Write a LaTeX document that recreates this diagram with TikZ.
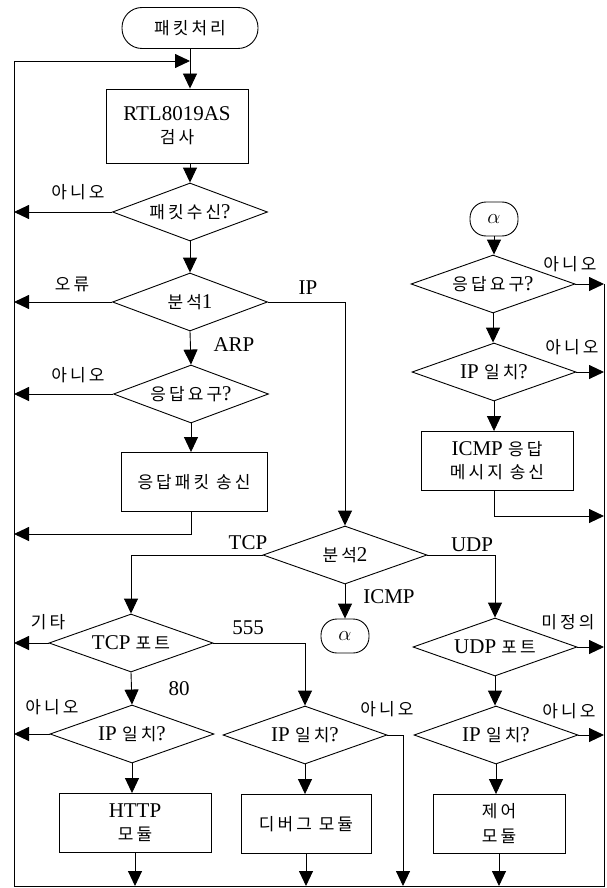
\documentclass[tikz,border=0pt]{standalone}
\usepackage{fontspec}
\setmainfont{Liberation Serif}
\newfontfamily\krfont[LetterSpace=18]{Noto Sans CJK KR}
\newcommand\K[1]{{\fontsize{17}{20}\krfont #1}}
\usetikzlibrary{shapes.geometric,arrows.meta}
\tikzset{
  base/.style={draw, line width=0.9pt, inner sep=0pt, align=center, font=\fontsize{21}{25}\selectfont},
  decs/.style={base, shape=diamond, aspect=2.8, minimum width=155pt, minimum height=58pt},
  decl/.style={base, shape=diamond, aspect=2.8, minimum width=164pt, minimum height=58pt},
  proc/.style={base, rectangle, minimum height=59pt},
  term/.style={base, rectangle, rounded corners=20pt, minimum width=136pt, minimum height=41pt},
  conn/.style={base, rectangle, rounded corners=16pt, minimum width=48pt, minimum height=34pt},
  lab/.style={inner sep=0pt, font=\fontsize{21}{25}\selectfont},
  wire/.style={line width=0.9pt},
  arr/.style={line width=0.9pt, -{Triangle[length=15pt,width=14pt]}},
}
\begin{document}
\begin{tikzpicture}[x=1pt,y=-1pt]
\useasboundingbox (0,0) rectangle (606,888);
% nodes
\node[term] (start) at (190,28) {\K{패킷처리}};
\node[proc, minimum width=142pt, minimum height=74pt] (rtl) at (177,126) {RTL8019AS\\[-2pt]\K{검사}};
\node[decs] (d1) at (190,212) {\K{패킷수신}?};
\node[decs] (d2) at (190,302) {\K{분석}1};
\node[decs] (d3) at (191,394) {\K{응답요구}?};
\node[proc, minimum width=146pt] (b1) at (194,482) {\K{응답패킷 송신}};
\node[decl] (d4) at (345,555) {\K{분석}2};
\node[conn] (c1) at (345,636) {$\alpha$};
\node[decl] (d5) at (131,643) {TCP \K{포트}};
\node[decl] (d6) at (495,647) {UDP \K{포트}};
\node[decl] (d7) at (132,734) {IP \K{일치}?};
\node[decl] (d8) at (305,735) {IP \K{일치}?};
\node[decl] (d9) at (496,735) {IP \K{일치}?};
\node[proc, minimum width=152pt] (b2) at (135,823) {HTTP\\[-2pt]\K{모듈}};
\node[proc, minimum width=130pt] (b3) at (306,824) {\K{디버그 모듈}};
\node[proc, minimum width=132pt] (b4) at (499,824) {\K{제어}\\[0pt]\K{모듈}};
\node[conn] (c2) at (494,219) {$\alpha$};
\node[decl] (d10) at (493,284) {\K{응답요구}?};
\node[decl] (d11) at (494,372) {IP \K{일치}?};
\node[proc, minimum width=152pt] (b5) at (497,461) {ICMP \K{응답}\\[-2pt]\K{메시지 송신}};
% labels
\node[lab] (l1) at (78,192) {\K{아니오}};
\node[lab] (l2) at (72,284) {\K{오류}};
\node[lab] (l3) at (308,288) {IP};
\node[lab] (l4) at (234,345) {ARP};
\node[lab] (l5) at (78,375) {\K{아니오}};
\node[lab] (l6) at (248,543) {TCP};
\node[lab] (l7) at (472,545) {UDP};
\node[lab] (l8) at (389,597) {ICMP};
\node[lab] (l9) at (48,622) {\K{기타}};
\node[lab] (l10) at (248,628) {555};
\node[lab] (l11) at (179,689) {80};
\node[lab] (l12) at (52,707) {\K{아니오}};
\node[lab] (l13) at (387,709) {\K{아니오}};
\node[lab] (l14) at (569,711) {\K{아니오}};
\node[lab] (l15) at (570,264) {\K{아니오}};
\node[lab] (l16) at (572,347) {\K{아니오}};
\node[lab] (l17) at (568,622) {\K{미정의}};
% frame coordinates
\coordinate (L) at (14,61);
\coordinate (LB) at (14,886);
\coordinate (RB) at (604,886);
\coordinate (j1) at (14,534);
\coordinate (j2) at (403,886);
\coordinate (j3) at (604,516);
% loop frame
\draw[arr] (d10.east -| RB) -- (RB) -- (LB) -- (L) -- (start |- L);
% connectors
\draw[arr] (start) -- (start |- rtl.north);
\draw[arr] (rtl.south -| d1) -- (d1.north);
\draw[arr] (d1.west) -- (d1.west -| LB);
\draw[arr] (d1.south) -- (d2.north);
\draw[arr] (d2.west) -- (d2.west -| LB);
\draw[arr] (d2.east) -| (d4.north);
\draw[arr] (d2.south) -- (d3.north);
\draw[arr] (d3.west) -- (d3.west -| LB);
\draw[arr] (d3.south) -- (d3.south |- b1.north);
\draw[arr] (b1.south -| d3) |- (j1);
\draw[arr] (d4.west) -| (d5.north);
\draw[arr] (d4.east) -| (d6.north);
\draw[arr] (d4.south) -- (c1.north);
\draw[arr] (d5.west) -- (d5.west -| LB);
\draw[arr] (d5.east) -| (d8.north);
\draw[arr] (d5.south) -- (d7.north);
\draw[arr] (d7.west) -- (d7.west -| LB);
\draw[arr] (d7.south) -- (d7.south |- b2.north);
\draw[arr] (d8.east) -| (j2);
\draw[arr] (d8.south) -- (d8.south |- b3.north);
\draw[arr] (d6.east) -- (d6.east -| RB);
\draw[arr] (d6.south) -- (d6.south |- d9.north);
\draw[arr] (d9.east) -- (d9.east -| RB);
\draw[arr] (d9.south) -- (d9.south |- b4.north);
\draw[arr] (b2.south) -- (b2.south |- LB);
\draw[arr] (b3.south) -- (b3.south |- LB);
\draw[arr] (b4.south) -- (b4.south |- LB);
\draw[arr] (c2.south) -- (c2.south |- d10.north);
\draw[arr] (d10.east) -- (d10.east -| RB);
\draw[arr] (d10.south) -- (d10.south |- d11.north);
\draw[arr] (d11.east) -- (d11.east -| RB);
\draw[arr] (d11.south) -- (d11.south |- b5.north);
\draw[arr] (b5.south -| d11) |- (j3);
\end{tikzpicture}
\end{document}
